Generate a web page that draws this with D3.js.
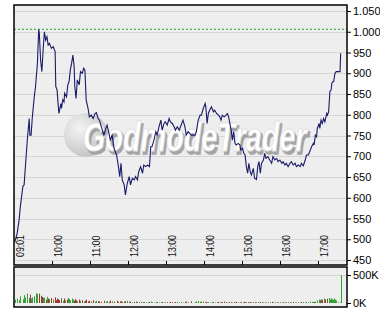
<!DOCTYPE html>
<html>
<head>
<meta charset="utf-8">
<script src="https://cdn.jsdelivr.net/npm/d3@7"></script>
<style>
  body { margin: 0; background: #fff; }
  text { font-family: "Liberation Sans", Arial, sans-serif; }
</style>
</head>
<body>
<div id="viz"></div>
<script>
// intraday quotes
var times = [
  "09:01","09:05","09:08","09:10","09:14","09:16","09:18","09:21","09:24","09:25",
  "09:27","09:29","09:32","09:34","09:37","09:39","09:40","09:42","09:44","09:46",
  "09:48","09:50","09:52","09:54","09:56","09:59","10:02","10:05","10:06","10:08",
  "10:10","10:11","10:14","10:15","10:17","10:19","10:20","10:23","10:25","10:27",
  "10:29","10:31","10:33","10:35","10:36","10:38","10:40","10:43","10:45","10:48",
  "10:50","10:52","10:54","10:57","10:59","11:02","11:05","11:08","11:10","11:13",
  "11:15","11:18","11:22","11:25","11:27","11:30","11:32","11:35","11:38","11:42",
  "11:45","11:47","11:49","11:51","11:54","11:56","11:59","12:02","12:04","12:07",
  "12:10","12:12","12:15","12:17","12:20","12:23","12:25","12:28","12:31","12:34",
  "12:36","12:38","12:41","12:44","12:46","12:49","12:52","12:54","12:57","12:59",
  "13:02","13:05","13:07","13:10","13:13","13:15","13:18","13:21","13:23","13:27",
  "13:30","13:32","13:35","13:40","13:46","13:48","13:51","13:54","13:56","13:59",
  "14:02","14:03","14:05","14:07","14:09","14:12","14:15","14:17","14:20","14:23",
  "14:25","14:27","14:29","14:32","14:35","14:37","14:39","14:43","14:45","14:47",
  "14:49","14:51","14:54","14:57","14:58","15:01","15:03","15:05","15:07","15:09",
  "15:11","15:13","15:15","15:18","15:20","15:23","15:25","15:27","15:29","15:31",
  "15:34","15:36","15:38","15:41","15:44","15:47","15:49","15:52","15:55","15:57",
  "16:00","16:03","16:05","16:08","16:10","16:13","16:16","16:18","16:21","16:24",
  "16:26","16:29","16:32","16:34","16:37","16:40","16:42","16:45","16:47","16:50",
  "16:53","16:54","16:56","16:58","16:59","17:02","17:03","17:05","17:07","17:09",
  "17:11","17:14","17:15","17:17","17:19","17:21","17:22","17:24","17:25","17:27",
  "17:29","17:32","17:35","17:36"
];

var prices = [
  492,514,546,578,627,631,675,739,791,751,
  751,795,843,868,924,1006,996,932,904,956,
  1000,980,988,968,972,960,964,952,868,860,
  819,803,827,815,836,831,852,843,872,880,
  908,924,944,916,868,839,884,872,904,900,
  912,908,836,815,795,799,791,803,805,791,
  787,771,751,767,775,755,739,751,719,703,
  675,651,683,643,631,607,635,651,631,647,
  643,651,643,663,675,659,679,675,679,675,
  723,723,739,759,751,771,787,763,779,783,
  775,791,783,779,771,763,771,763,771,787,
  771,751,759,751,751,759,787,799,799,815,
  827,819,779,803,811,819,807,811,803,799,
  795,787,799,795,799,803,795,763,739,759,
  731,727,731,727,715,719,707,703,675,659,
  683,663,655,671,647,644,675,687,659,683,
  691,707,695,699,691,683,699,691,695,687,
  691,683,687,679,683,675,683,687,679,683,
  675,679,675,683,677,691,703,703,711,723,
  731,727,751,747,767,779,767,787,779,791,
  783,803,799,807,856,860,876,880,880,900,
  904,904,904,948
];

// volume in thousands
var volumes = [
  60,80,50,120,70,140,100,170,90,150,
  80,100,120,175,160,170,150,130,110,90,
  100,60,110,80,70,90,60,100,50,80,
  70,50,90,60,40,80,50,60,90,70,
  50,80,60,40,70,50,30,60,40,50,
  30,40,60,30,40,30,50,25,40,30,
  30,20,40,25,35,20,45,30,25,40,
  20,30,35,20,25,30,40,20,25,15,
  20,30,15,20,25,15,20,10,15,20,
  25,15,10,20,15,10,15,20,10,15,
  15,10,20,15,10,15,20,10,15,10,
  20,25,15,30,20,25,35,20,30,25,
  15,20,10,15,10,20,15,10,15,20,
  10,15,20,25,15,10,20,15,10,15,
  10,20,15,10,15,10,20,15,10,15,
  10,15,10,20,15,10,15,10,15,20,
  10,15,10,15,10,20,15,10,15,10,
  15,10,20,15,10,15,10,15,20,10,
  10,15,10,20,15,10,20,15,25,20,
  15,20,25,20,45,60,50,70,55,80,
  65,50,75,90,60,85,70,55,80,60,
  45,10,10,500
];

var dayHigh = 1006;
var priceTicks = [450,500,550,600,650,700,750,800,850,900,950,1000,1050];
var hourTicks = ["10:00","11:00","12:00","13:00","14:00","15:00","16:00","17:00"];
var volTicks = [0, 500];

var W = 380, H = 325;
var pLeft = 14, pRight = 347;
var pTop = 5, pBottom = 265;
var vTop = 267, vBottom = 307;

var parse = d3.timeParse("%H:%M");
var de = d3.formatLocale({decimal: ",", thousands: ".", grouping: [3], currency: ["", " €"]});
var fmtPrice = de.format(",");

var svg = d3.select("#viz").append("svg")
  .attr("width", W)
  .attr("height", H);

var x = d3.scaleTime()
  .domain([parse("09:00"), parse("17:46")])
  .range([pLeft, pRight]);

var y = d3.scaleLinear()
  .domain([450, 1050])
  .range([260, 11]);

var yv = d3.scaleLinear()
  .domain([0, 500])
  .range([303, 275]);

var data = times.map(function(t, i) {
  return {t: parse(t), p: prices[i], v: volumes[i]};
});

// panel backgrounds
svg.append("rect")
  .attr("x", pLeft).attr("y", pTop)
  .attr("width", pRight - pLeft).attr("height", pBottom - pTop)
  .style("fill", "#eeeeee");

svg.append("rect")
  .attr("x", pLeft).attr("y", vTop)
  .attr("width", pRight - pLeft).attr("height", vBottom - vTop)
  .style("fill", "#eeeeee");

// grid
svg.append("g").selectAll("line")
  .data(priceTicks)
  .enter().append("line")
  .attr("x1", pLeft).attr("x2", pRight)
  .attr("y1", function(d) { return Math.round(y(d)) + 0.5; })
  .attr("y2", function(d) { return Math.round(y(d)) + 0.5; })
  .style("stroke", "#d6d6d6");

svg.append("line")
  .attr("x1", pLeft).attr("x2", pRight)
  .attr("y1", Math.round(yv(500)) + 0.5).attr("y2", Math.round(yv(500)) + 0.5)
  .style("stroke", "#d6d6d6");

// watermark
var defs = svg.append("defs");
var rg = defs.append("radialGradient").attr("id", "ball")
  .attr("cx", "35%").attr("cy", "35%").attr("r", "70%");
rg.append("stop").attr("offset", "0%").attr("stop-color", "#f4f4f4");
rg.append("stop").attr("offset", "100%").attr("stop-color", "#c2c2c2");

svg.append("circle")
  .attr("cx", 86).attr("cy", 135).attr("r", 22)
  .style("fill", "url(#ball)");

svg.append("text")
  .attr("transform", "translate(85,154) scale(0.72,1)")
  .style("font-size", "40px").style("font-weight", "bold").style("font-style", "italic")
  .style("fill", "#a4a4a4")
  .style("stroke", "#a4a4a4").style("stroke-width", 1.5)
  .text("GodmodeTrader");

svg.append("text")
  .attr("transform", "translate(83,151) scale(0.72,1)")
  .style("font-size", "40px").style("font-weight", "bold").style("font-style", "italic")
  .style("fill", "#ffffff")
  .style("stroke", "#e2e2e2").style("stroke-width", 0.8)
  .text("GodmodeTrader");

// day high
svg.append("line")
  .attr("x1", pLeft).attr("x2", pRight)
  .attr("y1", y(dayHigh)).attr("y2", y(dayHigh))
  .style("stroke", "#2f9e2f")
  .style("stroke-dasharray", "2,2");

// price line
svg.append("clipPath").attr("id", "clip")
  .append("rect").attr("x", pLeft).attr("y", pTop)
  .attr("width", pRight - pLeft).attr("height", pBottom - pTop);

var line = d3.line()
  .x(function(d) { return x(d.t); })
  .y(function(d) { return y(d.p); });

svg.append("path")
  .datum(data)
  .attr("clip-path", "url(#clip)")
  .attr("d", line)
  .style("fill", "none")
  .style("stroke", "#1a1a6a")
  .style("stroke-width", 1.1);

// volume bars, green up / red down
svg.append("g").selectAll("rect")
  .data(data)
  .enter().append("rect")
  .attr("x", function(d) { return Math.round(x(d.t)); })
  .attr("y", function(d) { return yv(d.v); })
  .attr("width", 1)
  .attr("height", function(d) { return yv(0) - yv(d.v); })
  .style("fill", function(d, i) {
    if (i > 0 && d.p < prices[i - 1]) return "#a23434";
    return "#35a035";
  });

// hour ticks and rotated labels
svg.append("g").selectAll("line")
  .data(hourTicks)
  .enter().append("line")
  .attr("x1", function(d) { return Math.round(x(parse(d))) + 0.5; })
  .attr("x2", function(d) { return Math.round(x(parse(d))) + 0.5; })
  .attr("y1", pBottom - 4).attr("y2", pBottom)
  .style("stroke", "#000");

var labelTimes = [times[0]].concat(hourTicks);
svg.append("g").selectAll("text")
  .data(labelTimes)
  .enter().append("text")
  .attr("transform", function(d, i) {
    var px = i === 0 ? pLeft : x(parse(d));
    return "translate(" + (px + 10) + ",257) rotate(-90) scale(0.8,1)";
  })
  .style("font-size", "11px")
  .style("fill", "#111")
  .text(function(d) { return d; });

// frames
svg.append("rect")
  .attr("x", pLeft).attr("y", pTop)
  .attr("width", pRight - pLeft).attr("height", pBottom - pTop)
  .style("fill", "none").style("stroke", "#000").style("stroke-width", 1.5);

svg.append("rect")
  .attr("x", pLeft).attr("y", vTop)
  .attr("width", pRight - pLeft).attr("height", vBottom - vTop)
  .style("fill", "none").style("stroke", "#000").style("stroke-width", 1.5);

// right axes
var yAxis = d3.axisRight(y)
  .tickValues(priceTicks)
  .tickSize(4)
  .tickPadding(2)
  .tickFormat(fmtPrice);

svg.append("g")
  .attr("transform", "translate(" + pRight + ",0)")
  .call(yAxis)
  .call(function(g) {
    g.select(".domain").remove();
    g.selectAll("text").style("font-size", "11px").style("fill", "#000")
      .style("font-family", "'Liberation Sans', Arial, sans-serif");
  });

var vAxis = d3.axisRight(yv)
  .tickValues(volTicks)
  .tickSize(4)
  .tickPadding(2)
  .tickFormat(function(d) { return d + "K"; });

svg.append("g")
  .attr("transform", "translate(" + pRight + ",0)")
  .call(vAxis)
  .call(function(g) {
    g.select(".domain").remove();
    g.selectAll("text").style("font-size", "11px").style("fill", "#000")
      .style("font-family", "'Liberation Sans', Arial, sans-serif");
  });
</script>
</body>
</html>
